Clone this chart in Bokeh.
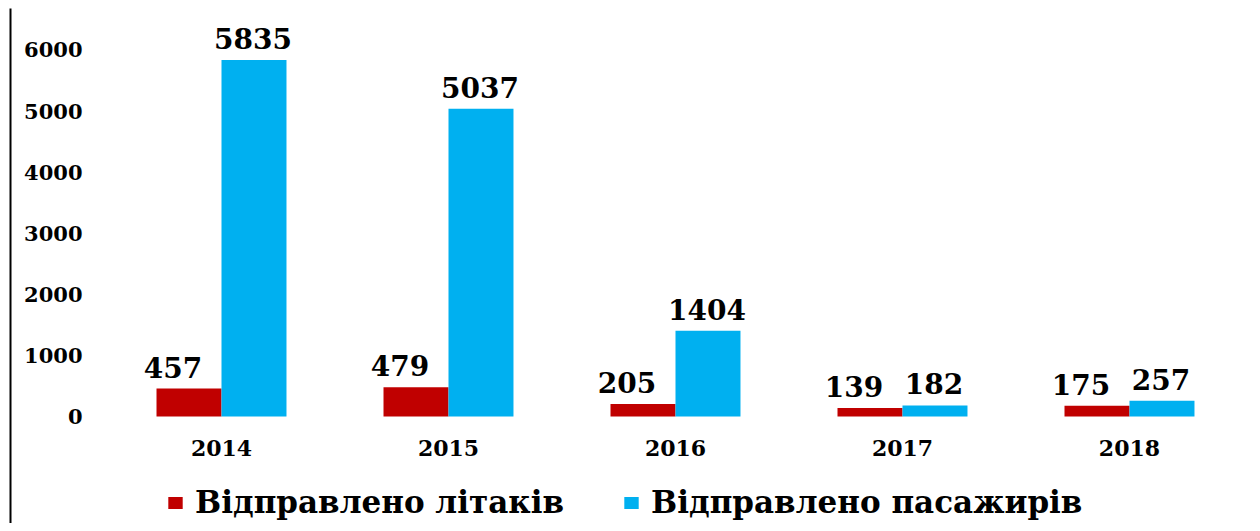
from bokeh.plotting import figure
from bokeh.models import ColumnDataSource, Range1d, FixedTicker, Legend, LegendItem
from bokeh.transform import dodge
from bokeh.core.properties import value
from bokeh.embed import file_html
from bokeh.resources import INLINE

years = ["2014", "2015", "2016", "2017", "2018"]
planes = [457, 479, 205, 139, 175]
passengers = [5835, 5037, 1404, 182, 257]
y_ticks = [0, 1000, 2000, 3000, 4000, 5000, 6000]
series_names = ["Відправлено літаків", "Відправлено пасажирів"]

RED = "#C00000"
BLUE = "#00B0F0"
FONT = "DejaVu Serif"

src = ColumnDataSource(dict(
    x=list(range(len(years))),
    planes=planes,
    passengers=passengers,
    planes_lbl=[str(v) for v in planes],
    pass_lbl=[str(v) for v in passengers],
))

p = figure(width=1252, height=523, output_backend="svg", toolbar_location=None,
           x_range=Range1d(-0.9295, 4.5419), y_range=Range1d(-1751, 6678),
           min_border_left=10, min_border_right=0, min_border_top=8, min_border_bottom=0)
p.outline_line_color = None
p.xgrid.visible = False
p.ygrid.visible = False
p.background_fill_color = "white"
p.border_fill_color = "white"

bw = 0.2863
off = bw / 2
r1 = p.vbar(x=dodge("x", -off, range=p.x_range), top="planes", width=bw, bottom=0,
            source=src, fill_color=RED, line_color=None)
r2 = p.vbar(x=dodge("x", off, range=p.x_range), top="passengers", width=bw, bottom=0,
            source=src, fill_color=BLUE, line_color=None)

p.text(x=dodge("x", -off, range=p.x_range), y="planes", text="planes_lbl", source=src,
       text_align="center", text_baseline="bottom", x_offset=-16, y_offset=-11,
       text_font=value(FONT), text_font_style="bold", text_font_size="28px", text_color="black")
p.text(x=dodge("x", off, range=p.x_range), y="passengers", text="pass_lbl", source=src,
       text_align="center", text_baseline="bottom", x_offset=-1, y_offset=-11,
       text_font=value(FONT), text_font_style="bold", text_font_size="28px", text_color="black")

# y axis: line at frame left, labels inside
ya = p.yaxis[0]
ya.ticker = FixedTicker(ticks=y_ticks)
ya.axis_line_color = "black"
ya.axis_line_width = 2
ya.major_tick_line_color = None
ya.minor_tick_line_color = None
ya.major_tick_out = 0
ya.major_tick_in = 0
ya.major_label_standoff = -72
ya.major_label_text_font = FONT
ya.major_label_text_font_style = "bold"
ya.major_label_text_font_size = "21px"
ya.major_label_text_color = "black"

xa = p.xaxis[0]
xa.ticker = FixedTicker(ticks=list(range(len(years))))
xa.major_label_overrides = {i: y for i, y in enumerate(years)}
xa.axis_line_color = None
xa.major_tick_line_color = None
xa.minor_tick_line_color = None
xa.major_tick_out = 0
xa.major_tick_in = 0
xa.major_label_standoff = -84
xa.major_label_text_font = FONT
xa.major_label_text_font_style = "bold"
xa.major_label_text_font_size = "22px"
xa.major_label_text_color = "black"

legend = Legend(items=[LegendItem(label=series_names[0], renderers=[r1]),
                       LegendItem(label=series_names[1], renderers=[r2])],
                orientation="horizontal", location=(156, 3),
                border_line_color=None, background_fill_alpha=0,
                padding=0, margin=0, spacing=58, label_standoff=11,
                glyph_width=18, glyph_height=15,
                label_text_font=FONT, label_text_font_style="bold",
                label_text_font_size="31px", label_text_color="black")
p.add_layout(legend)

open("out.html", "w").write(file_html(p, INLINE))
